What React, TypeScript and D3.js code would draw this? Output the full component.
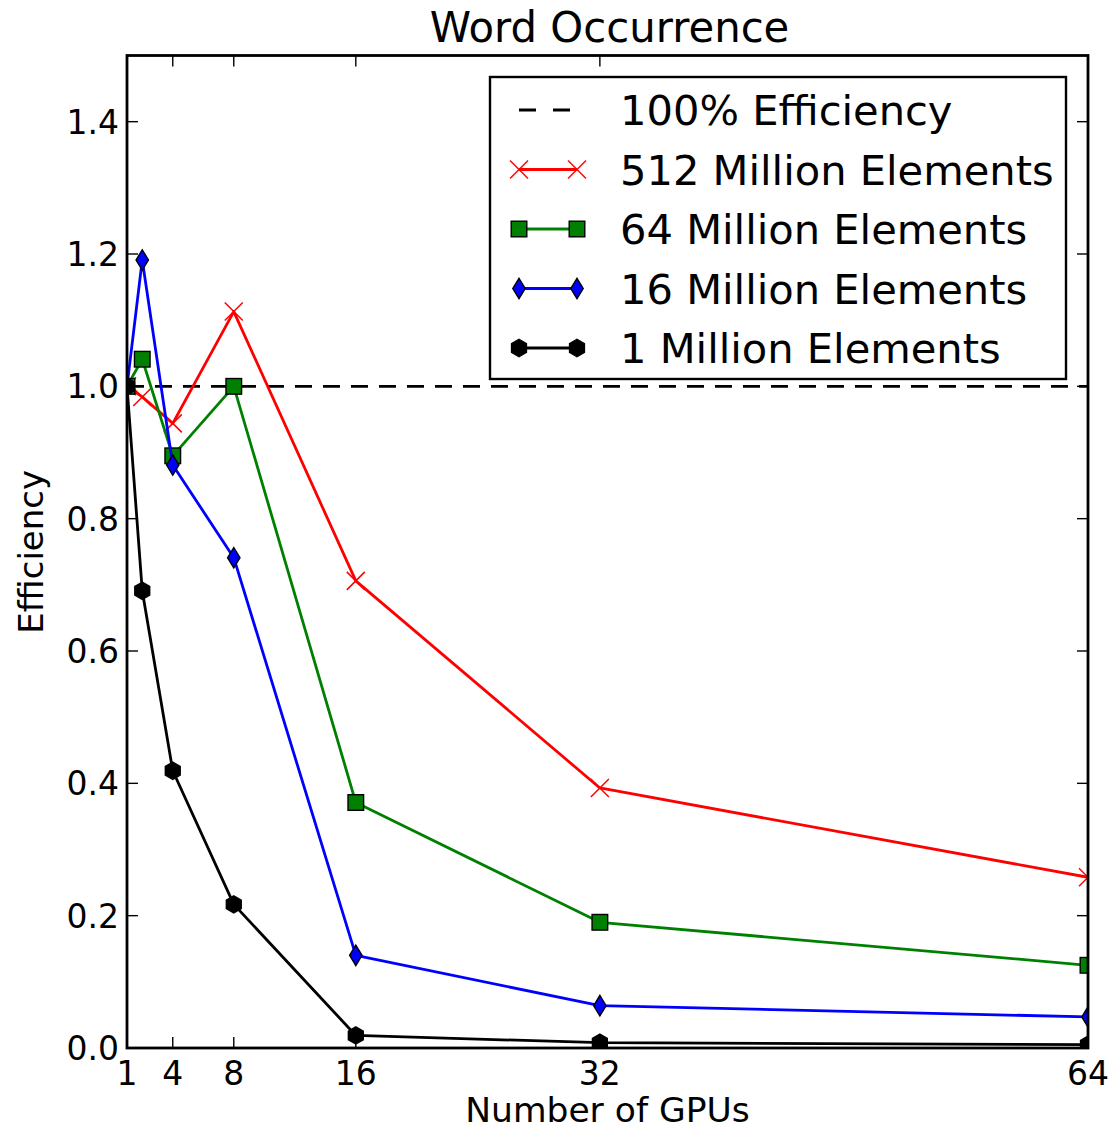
import React from "react";
import * as d3 from "d3";

const gpus = [1, 2, 4, 8, 16, 32, 64];
const eff512 = [1.0, 0.984, 0.944, 1.113, 0.706, 0.393, 0.258];
const eff64 = [1.0, 1.041, 0.895, 1.0, 0.371, 0.19, 0.125];
const eff16 = [1.0, 1.191, 0.881, 0.741, 0.14, 0.064, 0.047];
const eff1 = [1.0, 0.691, 0.419, 0.217, 0.019, 0.008, 0.005];
const xTicks = [1, 4, 8, 16, 32, 64];
const yTicks = [0, 0.2, 0.4, 0.6, 0.8, 1.0, 1.2, 1.4];
const idealLevel = 1.0;
const legendLabels = [
  "100% Efficiency",
  "512 Million Elements",
  "64 Million Elements",
  "16 Million Elements",
  "1 Million Elements",
];
const title = "Word Occurrence";
const xLabel = "Number of GPUs";
const yLabel = "Efficiency";

const W = 1113;
const H = 1130;
const L = 127;
const R = 1088;
const T = 55.5;
const B = 1048;
const FONT = "'DejaVu Sans', sans-serif";
const LW = 2.8;

type MarkerKind = "x" | "s" | "d" | "h";

function Marker({ kind, cx, cy, color }: { kind: MarkerKind; cx: number; cy: number; color: string }) {
  if (kind === "x") {
    const r = 9;
    return (
      <g stroke={color} strokeWidth={1.5}>
        <line x1={cx - r} y1={cy - r} x2={cx + r} y2={cy + r} />
        <line x1={cx - r} y1={cy + r} x2={cx + r} y2={cy - r} />
      </g>
    );
  }
  if (kind === "s") {
    const s = 15.6;
    return <rect x={cx - s / 2} y={cy - s / 2} width={s} height={s} fill={color} stroke="#000" strokeWidth={1.4} />;
  }
  if (kind === "d") {
    const h = 10.2;
    const w = 6.2;
    const pts = [
      [cx, cy - h],
      [cx + w, cy],
      [cx, cy + h],
      [cx - w, cy],
    ];
    return <polygon points={pts.map((p) => p.join(",")).join(" ")} fill={color} stroke="#000" strokeWidth={1.4} />;
  }
  const r = 8.6;
  const pts = d3.range(6).map((i) => {
    const a = -Math.PI / 2 + (i * Math.PI) / 3;
    return [cx + r * Math.cos(a), cy + r * Math.sin(a)];
  });
  return <polygon points={pts.map((p) => p.join(",")).join(" ")} fill={color} stroke="#000" strokeWidth={1.4} />;
}

export default function App() {
  const x = d3.scaleLinear().domain([1, 64]).range([L, R]);
  const y = d3.scaleLinear().domain([0, 1.5]).range([B, T]);
  const fmt = d3.format(".1f");

  const series: { vals: number[]; color: string; marker: MarkerKind }[] = [
    { vals: eff512, color: "#ff0000", marker: "x" },
    { vals: eff64, color: "#008000", marker: "s" },
    { vals: eff16, color: "#0000ff", marker: "d" },
    { vals: eff1, color: "#000000", marker: "h" },
  ];

  const line = d3
    .line<number>()
    .x((_, i) => x(gpus[i]))
    .y((v) => y(v));

  const tickLen = 11;
  const legX = 490;
  const legY = 77;
  const legW = 576;
  const legH = 302;
  const rowY = (i: number) => 110 + i * 59.5;
  const hx1 = 519;
  const hx2 = 577;
  const textX = 620;

  return (
    <svg
      width={W}
      height={H}
      style={{ position: "absolute", left: 0, top: 0, background: "#fff" }}
      fontFamily={FONT}
    >
      <rect x={0} y={0} width={W} height={H} fill="#fff" />
      <defs>
        <clipPath id="plotclip">
          <rect x={L} y={T} width={R - L} height={B - T} />
        </clipPath>
      </defs>

      <g clipPath="url(#plotclip)">
        <line
          x1={x(1)}
          x2={x(64)}
          y1={y(idealLevel)}
          y2={y(idealLevel)}
          stroke="#000"
          strokeWidth={LW}
          strokeDasharray="17,11"
        />
        {series.map((s, si) => (
          <g key={si}>
            <path d={line(s.vals) || ""} fill="none" stroke={s.color} strokeWidth={LW} strokeLinejoin="round" />
            {s.vals.map((v, i) => (
              <Marker key={i} kind={s.marker} cx={x(gpus[i])} cy={y(v)} color={s.color} />
            ))}
          </g>
        ))}
      </g>

      {/* ticks */}
      <g stroke="#000" strokeWidth={1.4}>
        {xTicks.map((t) => (
          <g key={"xt" + t}>
            <line x1={x(t)} x2={x(t)} y1={B} y2={B - tickLen} />
            <line x1={x(t)} x2={x(t)} y1={T} y2={T + tickLen} />
          </g>
        ))}
        {yTicks.map((t) => (
          <g key={"yt" + t}>
            <line x1={L} x2={L + tickLen} y1={y(t)} y2={y(t)} />
            <line x1={R} x2={R - tickLen} y1={y(t)} y2={y(t)} />
          </g>
        ))}
      </g>

      {/* spines */}
      <rect x={L} y={T} width={R - L} height={B - T} fill="none" stroke="#000" strokeWidth={2.8} />

      {/* tick labels */}
      <g fontSize={33} fill="#000">
        {xTicks.map((t) => (
          <text key={"xl" + t} x={x(t)} y={1085} textAnchor="middle">
            {t}
          </text>
        ))}
        {yTicks.map((t) => (
          <text key={"yl" + t} x={119} y={y(t)} dy="0.3645em" textAnchor="end">
            {fmt(t)}
          </text>
        ))}
      </g>

      {/* labels */}
      <text x={(L + R) / 2 + 2} y={42} textAnchor="middle" fontSize={41.8}>
        {title}
      </text>
      <text x={(L + R) / 2} y={1122} textAnchor="middle" fontSize={34.5}>
        {xLabel}
      </text>
      <text
        transform={`translate(43,${(T + B) / 2}) rotate(-90)`}
        textAnchor="middle"
        fontSize={34}
      >
        {yLabel}
      </text>

      {/* legend */}
      <rect x={legX} y={legY} width={legW} height={legH} fill="#fff" stroke="#000" strokeWidth={2.4} />
      <line
        x1={hx1}
        x2={hx2}
        y1={rowY(0)}
        y2={rowY(0)}
        stroke="#000"
        strokeWidth={LW}
        strokeDasharray="17,17"
      />
      {series.map((s, si) => {
        const cy = rowY(si + 1);
        return (
          <g key={"lg" + si}>
            <line x1={hx1} x2={hx2} y1={cy} y2={cy} stroke={s.color} strokeWidth={LW} />
            <Marker kind={s.marker} cx={hx1} cy={cy} color={s.color} />
            <Marker kind={s.marker} cx={hx2} cy={cy} color={s.color} />
          </g>
        );
      })}
      <g fontSize={41.6} fill="#000">
        {legendLabels.map((lab, i) => (
          <text key={"lt" + i} x={textX} y={rowY(i)} dy="0.3645em">
            {lab}
          </text>
        ))}
      </g>
    </svg>
  );
}
